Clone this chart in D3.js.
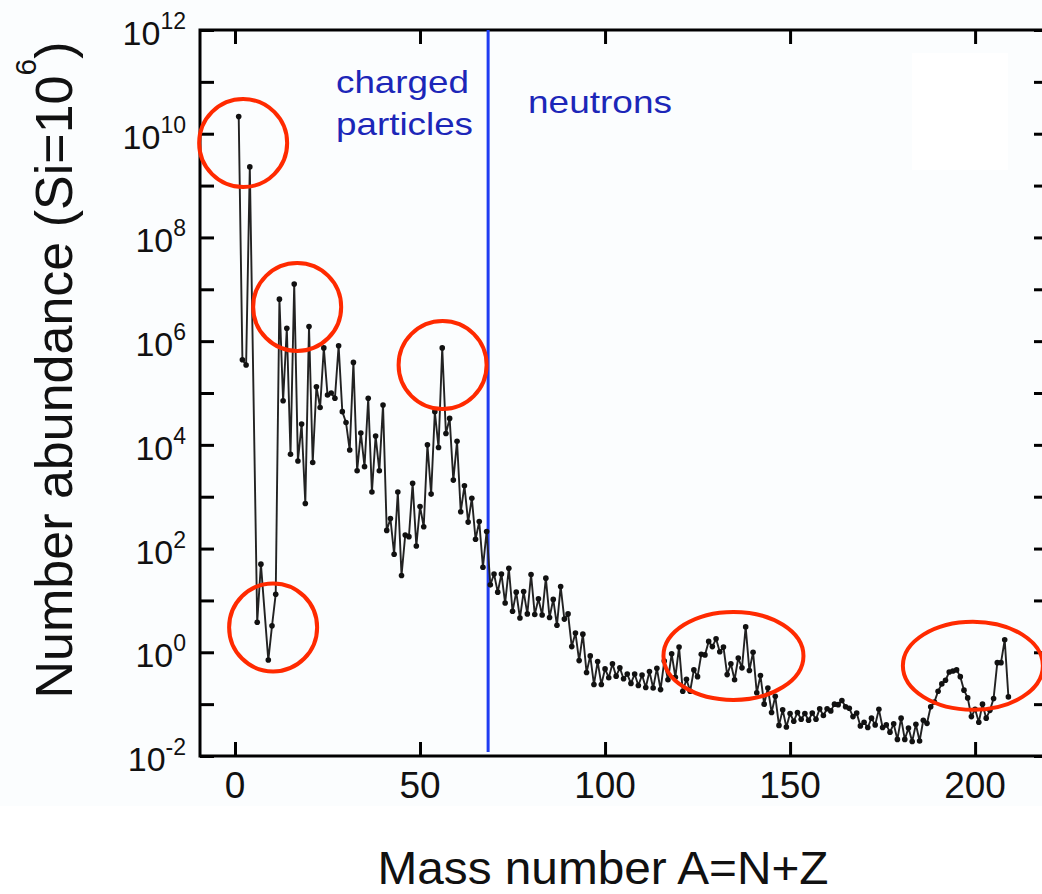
<!DOCTYPE html>
<html><head><meta charset="utf-8">
<script src="https://cdn.jsdelivr.net/npm/d3@7"></script>
<style>html,body{margin:0;padding:0;background:#fff;} svg{display:block;}</style>
</head><body>
<svg id="chart" width="1042" height="894"></svg>
<script>
// ---------- data ----------
const massNumbers = [
  1,2,3,4,6,7,9,10,11,12,13,14,15,16,17,18,19,20,
  21,22,23,24,25,26,27,28,29,30,31,32,33,34,35,36,37,38,39,40,
  41,42,43,44,45,46,47,48,49,50,51,52,53,54,55,56,57,58,59,60,
  61,62,63,64,65,66,67,68,69,70,71,72,73,74,75,76,77,78,79,80,
  81,82,83,84,85,86,87,88,89,90,91,92,93,94,95,96,97,98,99,100,
  101,102,103,104,105,106,107,108,109,110,111,112,113,114,115,116,117,118,119,120,
  121,122,123,124,125,126,127,128,129,130,131,132,133,134,135,136,137,138,139,140,
  141,142,143,144,145,146,147,148,149,150,151,152,153,154,155,156,157,158,159,160,
  161,162,163,164,165,166,167,168,169,170,171,172,173,174,175,176,177,178,179,180,
  181,182,183,184,185,186,187,188,189,190,191,192,193,194,195,196,197,198,199,200,
  201,202,203,204,205,206,207,208,209
];
// log10 of number abundance (Si = 10^6)
const log10Abundance = [
  10.33,5.64,5.54,9.36,0.58,1.70,-0.15,0.51,1.12,6.81,4.85,6.25,3.82,7.10,3.69,4.40,2.87,6.28,
  3.66,5.12,4.72,5.87,4.96,5.00,4.90,5.91,4.64,4.43,3.90,5.59,3.50,4.23,3.58,4.90,3.09,4.17,3.50,4.77,
  2.35,2.58,1.89,3.09,1.48,2.26,2.23,3.26,2.05,2.81,2.42,4.00,3.05,4.64,3.95,5.87,4.22,4.51,3.32,4.07,
  2.71,3.21,2.51,2.97,2.18,2.52,1.64,2.33,1.30,1.51,1.16,1.51,0.95,1.62,0.79,1.16,0.66,1.17,0.74,1.50,
  0.73,1.03,0.72,1.43,0.67,1.02,0.52,1.27,0.64,0.74,0.11,0.37,-0.16,0.35,-0.39,-0.07,-0.62,-0.18,-0.62,-0.32,
  -0.49,-0.22,-0.46,-0.30,-0.51,-0.42,-0.60,-0.42,-0.64,-0.44,-0.68,-0.37,-0.69,-0.31,-0.72,-0.17,-0.53,-0.03,-0.48,0.10,
  -0.75,-0.52,-0.75,-0.34,-0.47,-0.04,-0.05,0.21,0.11,0.26,0.01,0.10,-0.43,-0.22,-0.53,-0.11,-0.30,0.49,-0.35,0.00,
  -0.78,-0.45,-1.00,-0.69,-1.16,-0.85,-1.41,-1.11,-1.44,-1.18,-1.33,-1.16,-1.29,-1.18,-1.31,-1.17,-1.29,-1.09,-1.22,-1.09,
  -1.13,-1.00,-1.01,-0.93,-1.05,-1.08,-1.24,-1.17,-1.42,-1.35,-1.45,-1.27,-1.40,-1.10,-1.45,-1.40,-1.54,-1.38,-1.68,-1.27,
  -1.68,-1.46,-1.72,-1.39,-1.71,-1.31,-1.37,-1.05,-0.96,-0.75,-0.61,-0.54,-0.38,-0.36,-0.34,-0.47,-0.73,-0.88,-1.24,-1.10,
  -1.35,-1.00,-1.27,-1.12,-0.89,-0.20,-0.20,0.24,-0.86
];
const xTickValues = [0, 50, 100, 150, 200];
const yTickExponents = [-2,-1,0,1,2,3,4,5,6,7,8,9,10,11,12];
const yLabelExponents = [-2,0,2,4,6,8,10,12];
const xAxisTitle = "Mass number A=N+Z";
const yAxisTitle = ["Number abundance (Si=10", "6", ")"];
const regionBoundaryA = 68.4;
const leftRegionLabel = ["charged", "particles"];
const rightRegionLabel = "neutrons";
// highlighted features (centre in data units)
const highlightA = [2.2, 16.8, 56.1, 10.3, 134.7, 199.4];
const highlightLog = [9.82, 6.66, 5.54, 0.48, -0.07, -0.26];
const highlightWide = [false, false, false, false, true, true];

// ---------- layout ----------
const svg = d3.select("#chart");
const font = "'Liberation Sans', Arial, Helvetica, sans-serif";
const x = d3.scaleLinear().domain([-9.46, 219.7]).range([200, 1048]);
const y = d3.scaleLog().domain([1e-2, 1e12]).range([756, 30]);

svg.append("rect").attr("x",0).attr("y",0).attr("width",1042).attr("height",806).attr("fill","#fbfdfe");
svg.append("rect").attr("x",912).attr("y",53).attr("width",96).attr("height",117).attr("fill","#ffffff");

const data = massNumbers.map((a,i)=>({a, v: Math.pow(10, log10Abundance[i])}));

// ticks
const tickStyle = g => { g.select(".domain").remove(); g.selectAll("line").attr("stroke","#000").attr("stroke-width",3); g.selectAll("text").remove(); };
const yTicks = yTickExponents.map(e => Math.pow(10, e));
svg.append("g").attr("transform","translate(200,0)").call(d3.axisLeft(y).tickValues(yTicks).tickSize(-14)).call(tickStyle);
svg.append("g").attr("transform","translate(1048,0)").call(d3.axisRight(y).tickValues(yTicks).tickSize(-14)).call(tickStyle);
svg.append("g").attr("transform","translate(0,756)").call(d3.axisBottom(x).tickValues(xTickValues).tickSize(-14)).call(tickStyle);
svg.append("g").attr("transform","translate(0,30)").call(d3.axisTop(x).tickValues(xTickValues).tickSize(-14)).call(tickStyle);

// frame
svg.append("rect").attr("x",x.range()[0]).attr("y",y.range()[1])
  .attr("width",x.range()[1]-x.range()[0]).attr("height",y.range()[0]-y.range()[1])
  .attr("fill","none").attr("stroke","#000").attr("stroke-width",3);

// y tick labels
svg.append("g").selectAll("text").data(yLabelExponents).join("text")
  .attr("x",186).attr("y",d=>y(Math.pow(10,d))+15)
  .attr("text-anchor","end").attr("font-family",font).attr("font-size",34).attr("fill","#111")
  .each(function(d){
    const t = d3.select(this);
    t.append("tspan").text("10");
    t.append("tspan").attr("dy",-16).attr("font-size",23).text(d);
  });

// x tick labels
svg.append("g").selectAll("text").data(xTickValues).join("text")
  .attr("x",d=>x(d)).attr("y",798).attr("text-anchor","middle")
  .attr("font-family",font).attr("font-size",37).attr("fill","#111").text(d=>d);

// axis titles
svg.append("text").attr("x",603).attr("y",884).attr("text-anchor","middle")
  .attr("font-family",font).attr("font-size",46).attr("fill","#111")
  .attr("textLength",451).attr("lengthAdjust","spacingAndGlyphs").text(xAxisTitle);
const yt = svg.append("text").attr("transform","translate(72,370) rotate(-90)").attr("text-anchor","middle")
  .attr("font-family",font).attr("font-size",52).attr("fill","#111");
yt.append("tspan").text(yAxisTitle[0]);
yt.append("tspan").attr("dy",-36).attr("font-size",30).text(yAxisTitle[1]);
yt.append("tspan").attr("dy",36).text(yAxisTitle[2]);

// boundary line
svg.append("line").attr("x1",x(regionBoundaryA)).attr("x2",x(regionBoundaryA))
  .attr("y1",y.range()[1]).attr("y2",y.range()[0]-4)
  .attr("stroke","#1f3cf2").attr("stroke-width",3);

// region labels
const blue = "#1c26b8";
svg.append("text").attr("x",336).attr("y",93).attr("font-family",font).attr("font-size",32).attr("fill",blue)
  .attr("textLength",133).attr("lengthAdjust","spacingAndGlyphs").text(leftRegionLabel[0]);
svg.append("text").attr("x",336).attr("y",135).attr("font-family",font).attr("font-size",32).attr("fill",blue)
  .attr("textLength",137).attr("lengthAdjust","spacingAndGlyphs").text(leftRegionLabel[1]);
svg.append("text").attr("x",528).attr("y",113).attr("font-family",font).attr("font-size",32).attr("fill",blue)
  .attr("textLength",144).attr("lengthAdjust","spacingAndGlyphs").text(rightRegionLabel);

// data line and points
const line = d3.line().x(d=>x(d.a)).y(d=>y(d.v));
svg.append("path").datum(data).attr("d",line).attr("fill","none")
  .attr("stroke","#222").attr("stroke-width",1.9).attr("stroke-linejoin","round");
svg.append("g").selectAll("circle").data(data).join("circle")
  .attr("cx",d=>x(d.a)).attr("cy",d=>y(d.v)).attr("r",2.8).attr("fill","#111");

// highlight ellipses
svg.append("g").selectAll("ellipse").data(highlightA.map((a,i)=>({a, l:highlightLog[i], w:highlightWide[i]}))).join("ellipse")
  .attr("cx",d=>x(d.a)).attr("cy",d=>y(Math.pow(10,d.l)))
  .attr("rx",d=>d.w?70:44).attr("ry",44)
  .attr("fill","none").attr("stroke","#ff2a00").attr("stroke-width",4);
</script>
</body></html>
